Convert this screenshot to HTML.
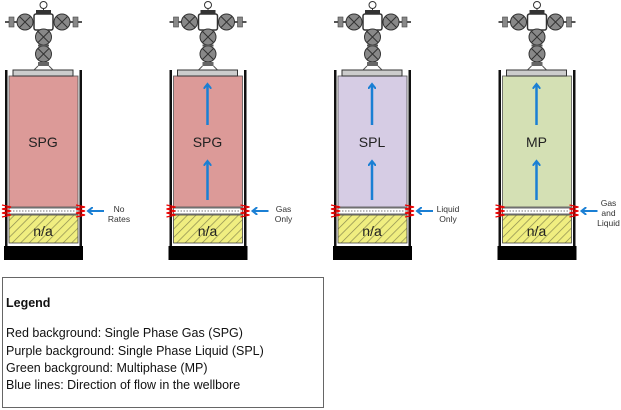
<!DOCTYPE html>
<html><head><meta charset="utf-8"><style>
html,body{margin:0;padding:0;background:#fff;}
svg{display:block;font-family:"Liberation Sans",Arial,sans-serif;}
</style></head><body>
<svg width="621" height="410" viewBox="0 0 621 410" xmlns="http://www.w3.org/2000/svg">
<defs>
<pattern id="hatch" width="6" height="6" patternUnits="userSpaceOnUse" patternTransform="rotate(45)">
<rect width="6" height="6" fill="#f0ee80"/><line x1="0" y1="0" x2="0" y2="6" stroke="#8a8a50" stroke-width="1.4"/>
</pattern>
<marker id="ah" markerWidth="8" markerHeight="8" refX="4" refY="4" orient="auto" markerUnits="userSpaceOnUse">
<path d="M0,0 L5,4 L0,8" fill="none" stroke="#1a7fd4" stroke-width="2"/>
</marker>
<g id="head">
<line x1="5" y1="22" x2="82" y2="22" stroke="#555" stroke-width="2"/>
<rect x="9" y="17" width="5" height="10" fill="#888" stroke="#444" stroke-width="0.6"/><rect x="73" y="17" width="5" height="10" fill="#888" stroke="#444" stroke-width="0.6"/>
<circle cx="25" cy="22" r="8" fill="#888" stroke="#333"/><circle cx="62" cy="22" r="8" fill="#888" stroke="#333"/>
<path d="M19.5,16.5 L30.5,27.5 M30.5,16.5 L19.5,27.5 M56.5,16.5 L67.5,27.5 M67.5,16.5 L56.5,27.5" stroke="#333"/>
<rect x="34" y="14" width="19" height="16" rx="2" fill="#fff" stroke="#333" stroke-width="1.5"/>
<rect x="36" y="10" width="15" height="4" fill="#333"/>
<circle cx="43.5" cy="5" r="3.5" fill="#fff" stroke="#333"/>
<line x1="43.5" y1="8" x2="43.5" y2="10" stroke="#333"/>
<rect x="37" y="30" width="13" height="2" fill="#555"/>
<circle cx="43.5" cy="37" r="8" fill="#888" stroke="#333"/>
<circle cx="43.5" cy="54" r="8" fill="#888" stroke="#333"/>
<path d="M38,31.5 L49,42.5 M49,31.5 L38,42.5 M38,48.5 L49,59.5 M49,48.5 L38,59.5" stroke="#333"/>
<rect x="38" y="44.5" width="11" height="2" fill="#555"/>
<rect x="38" y="62" width="11" height="4" fill="#666"/>
<path d="M38,66 L34,70 M49,66 L53,70" stroke="#555"/>
<rect x="13" y="70" width="60" height="6" fill="#ccc" stroke="#333"/>
</g>
<g id="body">
<rect x="5" y="70" width="2.5" height="176" fill="#111"/><rect x="79.5" y="70" width="2.5" height="176" fill="#111"/>
<rect x="9" y="208" width="69" height="6" fill="#fff" stroke="#444" stroke-width="0.8"/>
<line x1="10" y1="211" x2="77" y2="211" stroke="#777" stroke-dasharray="1.5,1.5"/>
<rect x="9" y="215" width="69" height="28" fill="url(#hatch)" stroke="#444" stroke-width="0.8"/>
<rect x="4" y="246" width="79" height="14" fill="#000"/>
<path d="M2,205 L11,207 L2,209 L11,211 L2,213 L11,215 L2,217" fill="none" stroke="#e00" stroke-width="1.3"/>
<path d="M76,205 L85,207 L76,209 L85,211 L76,213 L85,215 L76,217" fill="none" stroke="#e00" stroke-width="1.3"/>
<line x1="104" y1="211" x2="89" y2="211" stroke="#1a7fd4" stroke-width="2" marker-end="url(#ah)"/>
<text x="43" y="236" font-size="14" text-anchor="middle" fill="#222">n/a</text>
</g>
<g id="arrows" stroke="#1a7fd4" stroke-width="2.5">
<line x1="43" y1="200" x2="43" y2="162" marker-end="url(#ah)"/>
<line x1="43" y1="125" x2="43" y2="85" marker-end="url(#ah)"/>
</g>
</defs>

<rect x="9" y="76" width="69" height="131" fill="#dc9a98" stroke="#555" stroke-width="0.8"/>
<use href="#head"/><use href="#body"/>
<text x="43" y="147" font-size="14" text-anchor="middle" fill="#222">SPG</text>
<text x="119" y="212" font-size="8.5" text-anchor="middle" fill="#333">No</text>
<text x="119" y="222" font-size="8.5" text-anchor="middle" fill="#333">Rates</text>

<g transform="translate(164.5,0)">
<rect x="9" y="76" width="69" height="131" fill="#dc9a98" stroke="#555" stroke-width="0.8"/>
<use href="#head"/><use href="#body"/><use href="#arrows"/>
<text x="43" y="147" font-size="14" text-anchor="middle" fill="#222">SPG</text>
<text x="119" y="212" font-size="8.5" text-anchor="middle" fill="#333">Gas</text>
<text x="119" y="222" font-size="8.5" text-anchor="middle" fill="#333">Only</text>
</g>
<g transform="translate(329,0)">
<rect x="9" y="76" width="69" height="131" fill="#d6cce4" stroke="#555" stroke-width="0.8"/>
<use href="#head"/><use href="#body"/><use href="#arrows"/>
<text x="43" y="147" font-size="14" text-anchor="middle" fill="#222">SPL</text>
<text x="119" y="212" font-size="8.5" text-anchor="middle" fill="#333">Liquid</text>
<text x="119" y="222" font-size="8.5" text-anchor="middle" fill="#333">Only</text>
</g>
<g transform="translate(493.5,0)">
<rect x="9" y="76" width="69" height="131" fill="#d4e0b4" stroke="#555" stroke-width="0.8"/>
<use href="#head"/><use href="#body"/><use href="#arrows"/>
<text x="43" y="147" font-size="14" text-anchor="middle" fill="#222">MP</text>
<text x="115" y="206" font-size="8.5" text-anchor="middle" fill="#333">Gas</text>
<text x="115" y="216" font-size="8.5" text-anchor="middle" fill="#333">and</text>
<text x="115" y="226" font-size="8.5" text-anchor="middle" fill="#333">Liquid</text>
</g>

<rect x="2.5" y="277.5" width="321" height="130" fill="#fff" stroke="#666"/>
<text x="6" y="307" font-size="12.5" font-weight="bold" fill="#111">Legend</text>
<text x="6" y="337" font-size="12.5" fill="#111">Red background: Single Phase Gas (SPG)</text>
<text x="6" y="355" font-size="12.5" fill="#111">Purple background: Single Phase Liquid (SPL)</text>
<text x="6" y="372" font-size="12.5" fill="#111">Green background: Multiphase (MP)</text>
<text x="6" y="389" font-size="12.5" fill="#111">Blue lines: Direction of flow in the wellbore</text>
</svg>
</body></html>
